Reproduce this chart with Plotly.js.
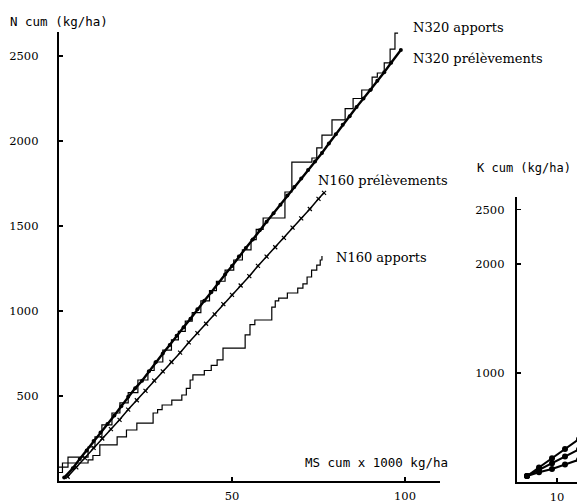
<!DOCTYPE html>
<html>
<head>
<meta charset="utf-8">
<script src="https://cdn.plot.ly/plotly-3.0.1.min.js"></script>
<style>html,body{margin:0;padding:0;background:#fff;}#chart{width:577px;height:504px;}</style>
</head>
<body>
<div id="chart"></div>
<script>
// ---- Left panel: N cumulated vs dry matter cumulated ----
const n320_prel_x = [1.5, 4, 6, 8, 10, 12, 14, 16, 18, 20, 22, 24, 26, 28, 30, 32, 34, 36, 38, 40, 42, 44, 46, 48, 50, 52, 54, 56, 58, 60, 62, 64, 66, 68, 70, 72, 74, 76, 78, 80, 82, 84, 86, 88, 90, 92, 94, 96, 98.8];
const n320_prel_y = [20, 75, 130, 180, 235, 285, 335, 385, 440, 495, 545, 590, 645, 700, 750, 800, 855, 905, 955, 1010, 1060, 1110, 1165, 1215, 1265, 1320, 1370, 1420, 1475, 1525, 1575, 1625, 1680, 1730, 1780, 1830, 1880, 1930, 1985, 2040, 2095, 2145, 2200, 2250, 2300, 2355, 2405, 2460, 2535];

const n160_prel_x = [2.5, 5, 7.5, 10, 12.5, 15, 17.5, 20, 22.5, 25, 27.5, 30, 32.5, 35, 37.5, 40, 42.5, 45, 47.5, 50, 52.5, 55, 57.5, 60, 62.5, 65, 67.5, 70, 72.5, 75, 76.6];
const n160_prel_y = [25, 80, 135, 195, 250, 305, 360, 420, 475, 530, 590, 645, 700, 755, 815, 870, 925, 980, 1040, 1095, 1150, 1205, 1265, 1320, 1375, 1430, 1490, 1545, 1600, 1660, 1695];

const n320_app_x = [0, 2.6, 8.4, 10.4, 12.4, 15.3, 17.6, 20, 22.8, 25.7, 27.5, 30, 32.5, 34.5, 36.5, 38.5, 41, 43.5, 45.5, 48, 50.5, 53, 55.5, 57, 59, 65.3, 67.3, 73.1, 74.5, 76, 78.9, 82.7, 85, 87.5, 90.5, 92, 94, 95.7, 97.1, 98];
const n320_app_y = [82, 141, 200, 259, 330, 400, 460, 520, 594, 650, 700, 770, 830, 880, 940, 990, 1060, 1120, 1175, 1240, 1300, 1360, 1420, 1480, 1547, 1700, 1876, 1900, 1960, 2035, 2124, 2190, 2250, 2300, 2376, 2400, 2459, 2540, 2635, 2635];

const n160_app_x = [0, 1, 8.4, 9.8, 11.8, 16.8, 19.5, 22.5, 27.2, 28.5, 29.8, 32.6, 35.5, 36.8, 37.9, 38.7, 42, 44, 45.7, 47.4, 53.8, 55.2, 56.6, 61.5, 62.5, 63.5, 66, 69, 70.5, 71.7, 73, 74.5, 75.5, 76];
const n160_app_y = [50, 106, 124, 150, 212, 259, 300, 341, 400, 420, 447, 476, 506, 545, 594, 624, 650, 680, 712, 782, 860, 920, 947, 1023, 1060, 1076, 1106, 1135, 1160, 1200, 1240, 1270, 1300, 1323];

const left_xticks = [50, 100];
const left_yticks = [500, 1000, 1500, 2000, 2500];

// ---- Right panel (cropped): K cumulated ----
const k_x = [2.5, 5.5, 8.75, 12, 15.5];
const k1_y = [55, 133, 218, 302, 393];
const k2_y = [55, 111, 172, 233, 299];
const k3_y = [55, 90, 119, 160, 205];
const right_xticks = [10];
const right_yticks = [1000, 2000, 2500];

const W = 577, H = 504;
const px = v => v / W;
const py = v => 1 - v / H;

const serif = 'DejaVu Serif, Liberation Serif, serif';
const mono = 'DejaVu Sans Mono, Liberation Mono, monospace';

const traces = [
  {x: n320_app_x, y: n320_app_y, type: 'scatter', mode: 'lines', line: {shape: 'hv', color: '#000', width: 1.2}, xaxis: 'x', yaxis: 'y', name: 'N320 apports'},
  {x: n160_app_x, y: n160_app_y, type: 'scatter', mode: 'lines', line: {shape: 'hv', color: '#000', width: 1.2}, xaxis: 'x', yaxis: 'y', name: 'N160 apports'},
  {x: n320_prel_x, y: n320_prel_y, type: 'scatter', mode: 'lines+markers', line: {color: '#000', width: 2.4}, marker: {symbol: 'circle', size: 4, color: '#000'}, xaxis: 'x', yaxis: 'y', name: 'N320 prélèvements'},
  {x: n160_prel_x, y: n160_prel_y, type: 'scatter', mode: 'lines+markers', line: {color: '#000', width: 1.5}, marker: {symbol: 'x-thin', size: 4, color: '#000', line: {width: 1.2, color: '#000'}}, xaxis: 'x', yaxis: 'y', name: 'N160 prélèvements'},
  {x: k_x, y: k1_y, type: 'scatter', mode: 'lines+markers', line: {color: '#000', width: 2}, marker: {size: 6, color: '#000'}, xaxis: 'x2', yaxis: 'y2'},
  {x: k_x, y: k2_y, type: 'scatter', mode: 'lines+markers', line: {color: '#000', width: 2}, marker: {size: 6, color: '#000'}, xaxis: 'x2', yaxis: 'y2'},
  {x: k_x, y: k3_y, type: 'scatter', mode: 'lines+markers', line: {color: '#000', width: 2}, marker: {size: 6, color: '#000'}, xaxis: 'x2', yaxis: 'y2'}
];

const axCommon = {
  showgrid: false, zeroline: false, showline: true, linecolor: '#000', linewidth: 2.2,
  ticks: 'inside', ticklen: 4, tickwidth: 1.5, tickcolor: '#000',
  tickfont: {family: serif, size: 11.5, color: '#000'}
};

const layout = {
  width: W, height: H,
  margin: {l: 0, r: 0, t: 0, b: 0},
  paper_bgcolor: '#fff', plot_bgcolor: 'rgba(0,0,0,0)',
  showlegend: false,
  xaxis: Object.assign({}, axCommon, {domain: [px(59), px(440)], range: [0, (440 - 59) / 3.46], tickvals: left_xticks, ticklabelstandoff: 3, anchor: 'y'}),
  yaxis: Object.assign({}, axCommon, {domain: [py(481), py(32)], range: [0, (481 - 32) / 0.17], tickvals: left_yticks, ticklabelstandoff: 16, anchor: 'x'}),
  xaxis2: Object.assign({}, axCommon, {domain: [px(517), 1], range: [0, 15], tickvals: right_xticks, ticklabelstandoff: 3, anchor: 'y2'}),
  yaxis2: Object.assign({}, axCommon, {domain: [py(482), py(197)], range: [0, (482 - 197) / 0.109], tickvals: right_yticks, ticklabelstandoff: 8, anchor: 'x2'}),
  annotations: [
    {text: 'N cum (kg/ha)', x: px(8), y: py(22), xref: 'paper', yref: 'paper', xanchor: 'left', yanchor: 'middle', showarrow: false, font: {family: mono, size: 12.5, color: '#000'}},
    {text: 'MS cum x 1000 kg/ha', x: px(303), y: py(462), xref: 'paper', yref: 'paper', xanchor: 'left', yanchor: 'middle', showarrow: false, font: {family: mono, size: 12.5, color: '#000'}},
    {text: 'K cum (kg/ha)', x: px(475), y: py(168), xref: 'paper', yref: 'paper', xanchor: 'left', yanchor: 'middle', showarrow: false, font: {family: mono, size: 12, color: '#000'}},
    {text: 'N320 apports', x: px(411), y: py(27), xref: 'paper', yref: 'paper', xanchor: 'left', yanchor: 'middle', showarrow: false, font: {family: serif, size: 13, color: '#000'}},
    {text: 'N320 prélèvements', x: px(411), y: py(58), xref: 'paper', yref: 'paper', xanchor: 'left', yanchor: 'middle', showarrow: false, font: {family: serif, size: 13, color: '#000'}},
    {text: 'N160 prélèvements', x: px(316), y: py(180), xref: 'paper', yref: 'paper', xanchor: 'left', yanchor: 'middle', showarrow: false, font: {family: serif, size: 13, color: '#000'}},
    {text: 'N160 apports', x: px(334), y: py(257), xref: 'paper', yref: 'paper', xanchor: 'left', yanchor: 'middle', showarrow: false, font: {family: serif, size: 13, color: '#000'}}
  ]
};

Plotly.newPlot('chart', traces, layout, {staticPlot: true, displayModeBar: false});
</script>
</body>
</html>
